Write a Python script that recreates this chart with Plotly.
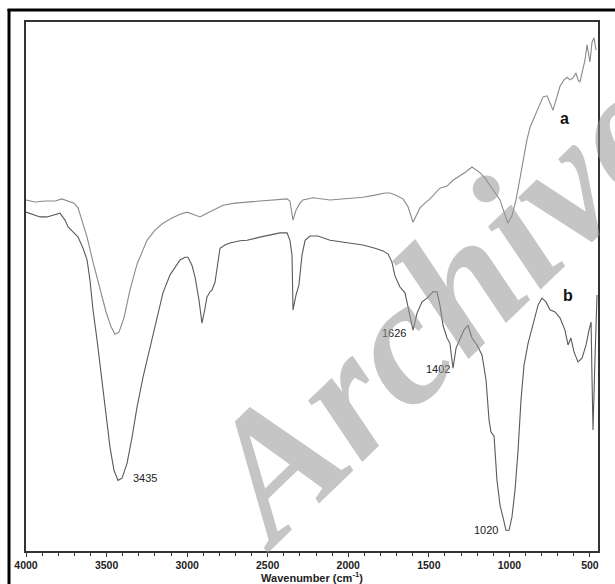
import plotly.graph_objects as go

# ---- data (wavenumber cm-1, relative transmittance) ----
wn_a = [4000, 3944, 3882, 3820, 3777, 3739, 3702, 3677, 3652, 3621, 3584, 3541, 3503, 3472,
        3448, 3423, 3392, 3355, 3311, 3249, 3199, 3150, 3094, 3044, 3001, 2964, 2920, 2877,
        2827, 2777, 2703, 2628, 2548, 2486, 2424, 2380, 2362, 2343, 2324, 2300, 2281, 2219,
        2113, 2008, 1909, 1834, 1772, 1741, 1704, 1660, 1629, 1598, 1573, 1555, 1524, 1493,
        1431, 1387, 1350, 1306, 1269, 1232, 1207, 1182, 1151, 1120, 1089, 1058, 1033, 1009,
        984, 959, 934, 915, 891, 872, 841, 810, 791, 766, 748, 729, 711, 686, 661, 642, 624,
        605, 587, 574, 562, 543, 531, 518, 506, 500, 487, 475, 462]
t_a = [66.5, 66.1, 66.3, 66.3, 66.7, 66.3, 65.9, 65.0, 62.7, 59.5, 54.8, 49.5, 45.4, 42.6,
       41.2, 41.6, 44.3, 49.5, 54.4, 58.9, 60.8, 62.1, 63.1, 63.8, 64.2, 63.8, 63.3, 64.0,
       64.8, 65.5, 65.9, 66.1, 66.3, 66.5, 66.7, 66.7, 66.3, 62.7, 64.6, 65.9, 66.5, 66.9,
       66.5, 66.7, 67.0, 67.4, 67.8, 67.8, 67.4, 66.7, 65.2, 62.3, 63.7, 65.0, 65.9, 66.7,
       68.7, 69.1, 70.2, 71.0, 71.8, 72.7, 72.1, 71.6, 70.6, 69.3, 68.0, 66.5, 64.2, 62.1,
       63.5, 66.5, 70.6, 74.0, 77.8, 80.2, 82.5, 84.7, 85.9, 86.1, 84.9, 83.4, 85.3, 87.9,
       89.1, 89.6, 89.1, 89.5, 90.4, 89.1, 88.7, 91.0, 92.8, 95.7, 93.8, 92.5, 96.2, 97.0, 94.7]

wn_b = [4000, 3957, 3913, 3870, 3820, 3789, 3758, 3739, 3708, 3677, 3646, 3621, 3603, 3584,
        3559, 3541, 3510, 3479, 3454, 3429, 3404, 3373, 3342, 3311, 3274, 3230, 3187, 3150,
        3106, 3044, 3013, 2995, 2970, 2951, 2926, 2908, 2889, 2877, 2858, 2846, 2827, 2808,
        2796, 2765, 2734, 2672, 2628, 2548, 2486, 2424, 2380, 2362, 2349, 2343, 2324, 2306,
        2287, 2268, 2237, 2188, 2113, 2008, 1909, 1834, 1784, 1753, 1729, 1710, 1679, 1648,
        1629, 1598, 1573, 1542, 1511, 1474, 1449, 1431, 1412, 1387, 1369, 1350, 1331, 1306,
        1282, 1257, 1232, 1201, 1170, 1145, 1126, 1114, 1095, 1077, 1058, 1040, 1021, 1002,
        984, 965, 946, 928, 909, 884, 853, 822, 798, 773, 748, 717, 686, 655, 636, 618, 599,
        574, 549, 524, 506, 493, 487, 481, 469, 456]
t_b = [64.2, 63.7, 63.3, 63.3, 63.8, 64.0, 62.7, 61.4, 60.5, 59.5, 57.4, 55.2, 51.4, 45.8,
       40.1, 35.8, 27.9, 20.0, 15.6, 13.7, 14.1, 16.9, 21.8, 27.5, 33.1, 38.8, 44.3, 49.0,
       52.4, 55.2, 55.7, 55.7, 54.2, 52.0, 47.6, 43.3, 46.1, 48.2, 49.2, 49.5, 51.0, 55.2,
       57.4, 58.0, 58.4, 58.8, 58.9, 59.5, 59.9, 60.3, 60.3, 58.9, 56.1, 45.8, 48.6, 50.5,
       56.1, 58.9, 59.7, 59.7, 58.9, 58.4, 58.0, 57.4, 56.9, 56.3, 54.8, 52.2, 50.1, 49.0,
       46.3, 42.0, 45.2, 47.3, 48.0, 49.2, 49.2, 46.7, 42.9, 40.5, 39.5, 34.8, 38.6, 40.5,
       42.0, 42.9, 40.5, 39.2, 37.3, 32.6, 25.0, 22.8, 22.0, 13.7, 9.0, 6.8, 4.3, 4.3,
       6.8, 11.9, 19.4, 28.8, 35.4, 39.5, 42.9, 46.7, 48.0, 47.3, 45.8, 45.4, 44.3, 42.0,
       39.2, 40.5, 37.9, 36.0, 36.7, 39.2, 42.0, 43.5, 32.6, 23.2, 36.3, 48.6]

peak_labels = ["3435", "1626", "1402", "1020"]
peak_x = [3261, 1716, 1443, 1145]
peak_y = [14.1, 41.4, 34.7, 4.3]

curve_labels = ["a", "b"]
curve_label_x = [655, 636]
curve_label_y = [81.9, 48.6]

tick_vals = [4000, 3500, 3000, 2500, 2000, 1500, 1000, 500]
tick_text = ["4000", "3500", "3000", "2500", "2000", "1500", "1000", "500"]

fig = go.Figure()
fig.add_trace(go.Scatter(x=wn_a, y=t_a, mode="lines",
                         line=dict(color="#8a8a8a", width=1.1), showlegend=False))
fig.add_trace(go.Scatter(x=wn_b, y=t_b, mode="lines",
                         line=dict(color="#5a5a5a", width=1.1), showlegend=False))

annotations = []
for txt, x, y in zip(peak_labels, peak_x, peak_y):
    annotations.append(dict(x=x, y=y, text=txt, showarrow=False,
                            font=dict(family="Liberation Sans", size=11, color="#222")))
for txt, x, y in zip(curve_labels, curve_label_x, curve_label_y):
    annotations.append(dict(x=x, y=y, text="<b>%s</b>" % txt, showarrow=False,
                            font=dict(family="Liberation Sans", size=16, color="#111")))
# watermark
annotations.append(dict(xref="paper", yref="paper", x=0.715, y=0.46, text="Archive",
                        xanchor="center", yanchor="middle",
                        showarrow=False, textangle=-44,
                        font=dict(family="Liberation Serif", size=178,
                                  color="rgba(150,150,150,0.55)",
                                  weight="bold", style="italic")))

shapes = [
    dict(type="line", xref="paper", yref="paper", x0=-0.0297, x1=-0.0297, y0=-0.07, y1=1.0245,
         line=dict(color="black", width=3)),
    dict(type="line", xref="paper", yref="paper", x0=-0.0323, x1=1.04, y0=1.0225, y1=1.0225,
         line=dict(color="black", width=3)),
]

fig.update_layout(
    width=615, height=584,
    margin=dict(l=26, r=17, t=22, b=33),
    paper_bgcolor="white", plot_bgcolor="white",
    annotations=annotations, shapes=shapes,
    xaxis=dict(range=[4000, 450], tickvals=tick_vals, ticktext=tick_text, automargin=False,
               ticks="outside", ticklen=4, tickwidth=1, tickcolor="#333",
               minor=dict(ticks="outside", ticklen=3, dtick=100, tick0=0, tickcolor="#333"),
               showline=True, linecolor="#333", linewidth=1.5, mirror=True,
               showgrid=False, zeroline=False,
               tickfont=dict(family="Liberation Sans", size=10.5, color="#222", weight="bold"),
               title=dict(text="<b>Wavenumber (cm<sup>-1</sup>)</b>", standoff=4,
                          font=dict(family="Liberation Sans", size=11, color="#222"))),
    yaxis=dict(range=[0.4, 100], showticklabels=False, ticks="", automargin=False,
               showline=True, linecolor="#333", linewidth=1.5, mirror=True,
               showgrid=False, zeroline=False),
)

fig.write_html("out.html", config={"displayModeBar": False},
               post_script="document.body.style.margin='0';document.body.style.overflow='hidden';")
